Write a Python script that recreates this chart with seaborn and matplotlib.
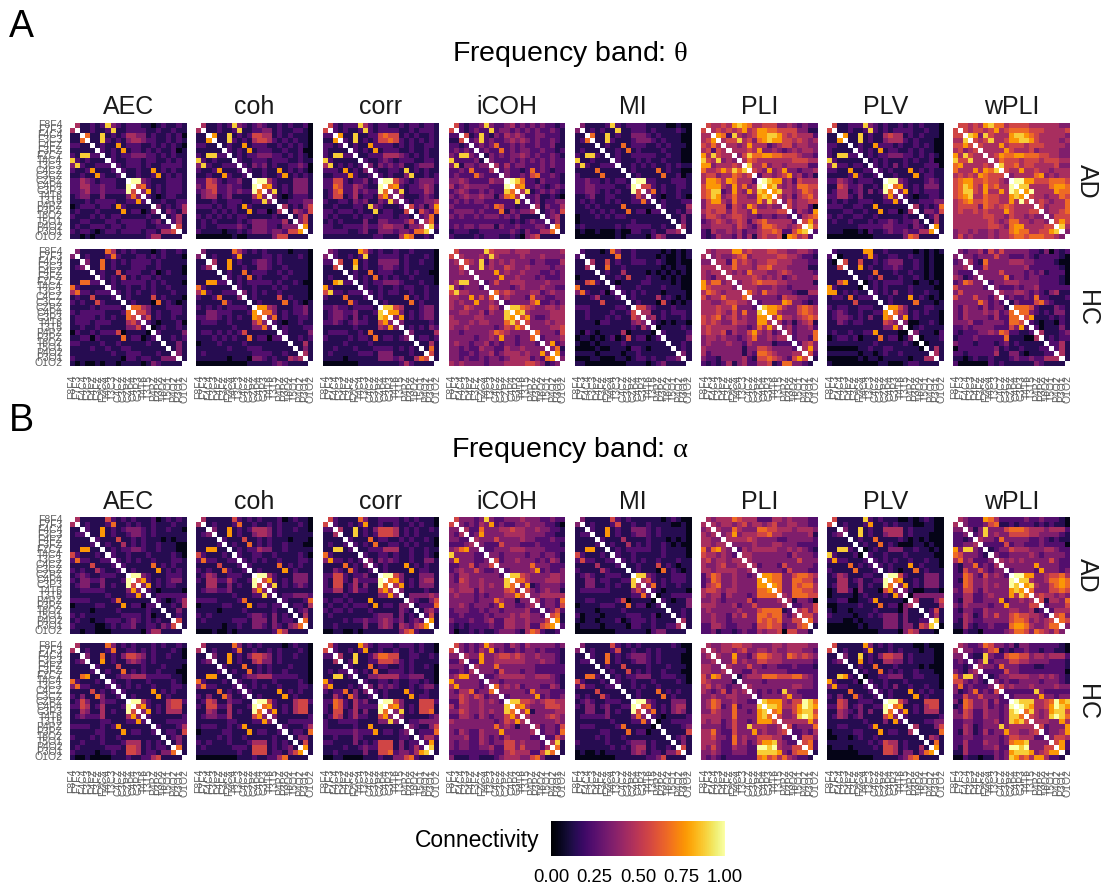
## Connectivity matrices per metric, group and frequency band
## Importing libraries
import numpy as np
import pandas as pd
import matplotlib
matplotlib.use("Agg")
import matplotlib.pyplot as plt
import seaborn as sns

# electrode pairs (rows and columns of every matrix)
pairs = ["F8F4", "F7F3", "F4C4", "F3C3", "F4FZ", "F3FZ", "FZCZ", "T4C4", "T3C3", "C4CZ", "C3CZ", "CZPZ",
         "C4P4", "C3P3", "T4T6", "T3T5", "P4PZ", "P3PZ", "T6O2", "T5O1", "P4O2", "P3O1", "O1O2"]
metrics = ["AEC", "coh", "corr", "iCOH", "MI", "PLI", "PLV", "wPLI"]
groups = ["AD", "HC"]
bar_ticks = [0.0, 0.25, 0.5, 0.75, 1.0]
bar_labels = ["0.00", "0.25", "0.50", "0.75", "1.00"]
# what each digit in the tables below stands for
digit_levels = [0.04, 0.14, 0.24, 0.35, 0.45, 0.56, 0.67, 0.77, 0.88, 1.0]

# Upper triangles, one digit per cell
theta_ad_aec = """4112128321222110121121 112112811222211211211 61181212443312112120 1182121344322112121
121171222112121210 21217122121211201 1212233322121211 211222122112121 21222121122221 2112117121211
112112712121 99321112221 5621212221 371212221 21012211 1121122 312124 13214 1241 241 51 1"""
theta_ad_coh = """4112128321232112121120 112112811223312112210 71181212554412121110 1182121455421212110
121171222112121210 21217122211211200 1212233322121210 211222122211211 21323121122320 2112117121210
112112712121 99421113331 6721213331 381213331 31012221 1122233 412135 14325 1351 351 71 1"""
theta_ad_corr = """5212228421221121221221 212112821222211212221 71181122565512121121 2181212556521212121
121172222121211221 21217122211211211 1122244432121211 211232122211221 31323231123331 2112218121211
212113811212 99532123332 6721223431 381222431 31112321 2122334 523137 15326 2361 461 82 1"""
theta_ad_icoh = """5212238322342323232212 212322823323232322321 51282132434322332221 2382322343432322321
232362232322322311 23226232332232212 1323233432322321 322232323232322 42423322232322 2322126232122
322325622321 98622132221 6722321232 481232321 22311210 2312233 413224 12325 2341 241 61 1"""
theta_ad_mi = """3111128212222111100100 121211811222121111210 61181211333212111100 1182111233321211100
121161222112121110 11216121111211100 1211222221121100 211121211211100 11212121121211 1211116121100
121111611201 99221112221 5521211221 361211211 21011210 1211122 211114 11213 1131 131 41 1"""
theta_ad_pli = """5445478764455533432322 454545745776655553311 76284345778875454442 455845367877554543441
443474442345534433 44454733432343443 3586677665554332 465444444455544 84463443444422 5437347332334
244345734231 98773425444 7843436655 7844346544 53424564 3534455 534420 24327 2456 574 85 2"""
theta_ad_plv = """5112228321211212121110 112112821212222112110 71181211454412121110 1181211344421211100
121172221211212100 21217122112121100 1212233322121210 121211121211200 21213121112220 2121117121211
112111712211 99321112321 6721213331 371212221 21011221 1122233 412126 13325 1241 141 71 1"""
theta_ad_wpli = """5545478664555544444433 545545745666655544445 87385444788765444443 545844577887544443442
544474555455544443 44447544453444433 4576677666554433 465554555455544 85564554444533 5447445443444
344446734344 99775556665 8844446776 7944447665 54434465 4543446 534446 34456 3555 575 84 3"""
theta_hc_aec = """3111116412121110121121 121112621112212121110 31161212122221211111 1161211122211211110
121151222112012110 21215121221211111 1212222212121110 211211212112111 21212112111211 1211115121110
121110612101 66431112221 5531211221 351211211 21011120 0121121 211113 11212 1131 131 31 1"""
theta_hc_coh = """3111116421212111101110 121112711112212111210 41171211233212111110 1171121133211211110
121161222112121110 21216121111211110 1212222212112100 211211121211110 31212112111110 1211115121110
121111612101 77431112231 6631212231 361211221 21011211 1211122 211113 11212 1141 131 41 1"""
theta_hc_corr = """3211117521211211211110 211212811222212111210 51171211333312112110 1181211233212111110
121161222112121100 21216121211211110 1212233321112110 211211212211211 21212211211211 1211116121211
121111612111 88541112331 7731212331 371212331 31111121 1212132 311114 12212 1141 161 51 1"""
theta_hc_icoh = """5333338544434443333334 433343843333433343333 54382434343332332224 3383433543343333233
333373433433322323 33337334333232223 2353344433334333 333323433343322 64543334423433 3433326332233
233335722323 88654334434 7843333444 5732234444 53334344 3333445 633325 23334 3723 361 72 3"""
theta_hc_mi = """2111016311211111010101 111111611211110100101 41151211222112100100 1161121111111010110
121141111010101010 11215111211010100 1011112211110100 211121111211100 21212111011110 1211114121010
121110510101 55321112111 4411212221 341211121 21010110 0111121 211112 11113 1121 121 31 1"""
theta_hc_pli = """4344477454445544334432 343345634444455443221 44264543445544433322 4464443556444333311
434364443345433332 44445434342343334 3445655544333331 444333433233333 64364433321144 3333325443322
233337633212 87764335654 7743335654 4744345654 42313451 3423342 423336 23326 2453 473 52 1"""
theta_hc_plv = """2111117711211111010101 011112721122112110100 51151121233311210100 1171211223211210100
111161112112110100 11215111211210100 0121222211011010 121211112111100 21213112112110 1121117121010
121111611101 77531112211 6431212110 371211110 30011210 0121111 311102 01112 0111 141 41 1"""
theta_hc_wpli = """3233425353333322130212 332333533222321222210 42163333444332222100 2253333333422222210
333353333232312220 33336233233222210 2334443333222210 322232334222222 43344323213411 2322326221112
132225632111 66652111321 6632121331 571112121 21011021 2011131 411123 12122 2241 241 41 1"""
alpha_ad_aec = """4111115212121112012121 121112611212112111211 21171212333212112110 1171211233212111111
211151121211101011 12114121211211100 1212233211211100 211211121111210 21212112111221 2111116121211
121111712121 99321112221 5721212331 371212211 21011110 1222222 210124 11214 1131 121 51 1"""
alpha_ad_coh = """4111115212121112012110 121112611211212111210 31171212444312112110 1171211344312111111
211151121211101110 12116121211211100 1212243311211111 211221121111210 21212112111221 2111116121211
121111712111 99421113331 5721213331 381212321 21111111 1223332 211126 12214 1231 141 61 1"""
alpha_ad_corr = """5211116311222212121110 211212711211211212110 41181213555412121121 1181212555412121111
211161221121211210 21216112212121110 1122244411211211 211221211211210 31323211211331 2121117121211
121111712211 99531113331 6731213441 471213331 31111211 1333343 321135 12226 1342 251 71 1"""
alpha_ad_icoh = """5333238322333433322322 323243723223343332210 42263334454433433221 2373333444433332211
433353333433222322 32225333222322221 2233344433332222 332333323323321 52334333232431 3333336333222
233334723223 88543333443 6643334443 371233332 53234331 3344444 423326 23325 2352 561 71 2"""
alpha_ad_mi = """3111115212111111012100 121112511211211110010 21171211333212111110 1171211233212111110
211141111211101010 12114121211210100 1212222211211110 211211111211110 21212112111211 1121115121011
121110612101 88321112221 4521212221 361211211 21011110 0112222 210113 11113 1121 121 41 1"""
alpha_ad_pli = """4344465444222443433322 434434534434533443322 43364333665544434443 3473444556443333341
444454333322333332 33334333443332222 2434444433434321 443333333243332 43333333335333 4233325333332
333332533322 77663356654 7663366553 763365664 63366554 4366655 413320 22335 4535 553 63 1"""
alpha_ad_plv = """5111118212111001012100 121112711212111001100 31181211444412111100 1181211344412111000
121161111210101000 12116121000110100 0121133311211010 211211121111100 21212112112110 2121117121110
121011612111 99521113331 6711213331 371213331 31001110 0333333 411135 11114 1251 241 81 0"""
alpha_ad_wpli = """4322276422222322322210 322235611212221212110 31383335666544434442 2383433555544333321
433263333322321211 22225233222322220 1233544433344322 322333343233332 43434333335322 3333337333322
233332733323 99773345564 8843346676 784335676 63335565 4544343 514436 23335 2444 563 65 3"""
alpha_hc_aec = """4111116312121112121121 121112611221212111210 31161213554312112110 1171211343212111111
211151111211121110 12116121211211100 1123344422222110 211211121111210 21212112111221 2111117121211
121111712111 99421114552 5721214551 371214441 21111112 1112222 211124 12215 1231 131 61 1"""
alpha_hc_coh = """4111116312121111012110 121112611211212111210 31171213554312112110 1171211453312111110
211161121211121110 12116121211211110 1123344422222110 211211121111210 21212112111221 2111117121211
121111712111 99521114552 6721214551 371214551 31111112 1122222 211124 12216 1331 151 71 1"""
alpha_hc_corr = """5211117421222122212110 211212711211211212110 41181124665511221121 1281122555421211111
211161221121211210 21216112221211110 1133444422333110 211221211221210 31323211212331 2121117211211
121111712211 99531115552 6731215551 381215561 31111123 1223333 321135 12226 2442 271 81 1"""
alpha_hc_icoh = """5323237433243243333323 323243723223233232221 43373345545433433321 2273344444433343321
433363333333222222 33325333233222222 2234444433444321 332333333333321 63434233322431 3333326333222
233333723223 88554345544 6743335554 471333344 43334543 3333343 423325 23326 2253 481 61 1"""
alpha_hc_mi = """3111115212121111112100 121112511211212111110 21161212333212111100 1161211233212111100
121151111211121110 12115121211211100 1212233311222110 211211121111210 11212112111111 1121116121211
121111612111 99321113331 5621213441 361213431 21011112 0112222 111123 11115 1231 131 51 1"""
alpha_hc_pli = """4334455443333443444433 434434533443433444332 43373324665443654543 3363433554443333332
433353323322232221 33224333333222222 1344466655566432 333323333333332 43333333344332 3232328332222
233334733222 87774355986 8874457987 673357885 53348986 4444474 523336 22324 2553 562 62 1"""
alpha_hc_plv = """5111117312121111001000 121112711121211101100 31181213554412111100 1171211443312111100
121161112111101000 12116121211211100 0112233311221110 211211121111110 21213112112110 2121117121211
121111712111 99531115551 6711214551 371214441 21111112 1112233 411135 11116 1431 161 71 1"""
alpha_hc_wpli = """4322365332313322222210 332235612122322122110 21183225665534434442 2382333554433332221
433263332221122221 22225332222222220 1233444433434321 323223333233321 53433343333433 2222228322222
233333733233 98884456978 9874457987 684347885 54348986 4443374 523337 23347 3554 572 72 1"""

theta_blocks = [[theta_ad_aec, theta_ad_coh, theta_ad_corr, theta_ad_icoh, theta_ad_mi, theta_ad_pli, theta_ad_plv, theta_ad_wpli],
                [theta_hc_aec, theta_hc_coh, theta_hc_corr, theta_hc_icoh, theta_hc_mi, theta_hc_pli, theta_hc_plv, theta_hc_wpli]]
alpha_blocks = [[alpha_ad_aec, alpha_ad_coh, alpha_ad_corr, alpha_ad_icoh, alpha_ad_mi, alpha_ad_pli, alpha_ad_plv, alpha_ad_wpli],
                [alpha_hc_aec, alpha_hc_coh, alpha_hc_corr, alpha_hc_icoh, alpha_hc_mi, alpha_hc_pli, alpha_hc_plv, alpha_hc_wpli]]

# Figure size and positions in pixels
W, H = 1101, 886
col_left = [70, 196.3, 322.5, 448.7, 574.9, 701.1, 827.3, 953]
panel_w, panel_h = 116.6, 116.6
row_tops = {"A": [122.7, 249.3], "B": [517, 643.3]}

sns.set_theme(style="white")
plt.rcParams["font.family"] = ["Liberation Sans", "DejaVu Sans"]
plt.rcParams["mathtext.fontset"] = "custom"
plt.rcParams["mathtext.rm"] = "Liberation Serif"
plt.rcParams["mathtext.it"] = "Liberation Serif"
plt.rcParams["mathtext.bf"] = "Liberation Serif"


# Turn the digit strings into a symmetric table with an empty diagonal
def to_matrix(block):
    rows = block.split()
    n = len(pairs)
    mat = np.full((n, n), np.nan)
    for i in range(n - 1):
        size = n - 1 - i
        row = rows[i][:size].ljust(size, rows[i][-1])
        for k, ch in enumerate(row):
            mat[i, i + 1 + k] = digit_levels[int(ch)]
            mat[i + 1 + k, i] = digit_levels[int(ch)]
    return pd.DataFrame(mat, index=pairs, columns=pairs)


def add_ax(x, y, w, h):
    return fig.add_axes([x / W, 1 - (y + h) / H, w / W, h / H])


def px_text(x, y, s, **kw):
    fig.text(x / W, 1 - y / H, s, **kw)


fig = plt.figure(figsize=(W / 100, H / 100), dpi=100)
cax = add_ax(551, 821, 174, 35)


def draw_band(letter, blocks):
    for r, group in enumerate(groups):
        for c, metric in enumerate(metrics):
            ax = add_ax(col_left[c], row_tops[letter][r], panel_w, panel_h)
            first = letter == "A" and r == 0 and c == 0
            sns.heatmap(to_matrix(blocks[r][c]), ax=ax, cmap="inferno", vmin=0, vmax=1, square=False,
                        xticklabels=pairs if r == 1 else False, yticklabels=pairs if c == 0 else False,
                        cbar=first, cbar_ax=cax if first else None,
                        cbar_kws={"orientation": "horizontal", "ticks": bar_ticks} if first else {})
            ax.set_xlabel("")
            ax.set_ylabel("")
            ax.tick_params(axis="both", length=0, labelsize=7.5, labelcolor="#5f5f5f")
            ax.tick_params(axis="x", pad=6.5, labelrotation=90)
            ax.tick_params(axis="y", pad=5.5, labelrotation=0)
            if r == 0:
                ax.set_title(metric, fontsize=18, color="#1a1a1a", pad=6)
        px_text(1087, row_tops[letter][r] + panel_h / 2, group, fontsize=18, color="#1a1a1a",
                rotation=-90, ha="center", va="center")


draw_band("A", theta_blocks)
draw_band("B", alpha_blocks)

px_text(570, 54, r"Frequency band: $\theta$", fontsize=20.5, color="black", ha="center", va="center")
px_text(570, 450, r"Frequency band: $\alpha$", fontsize=20.5, color="black", ha="center", va="center")
px_text(9, 27, "A", fontsize=27, color="black", ha="left", va="center")
px_text(9, 421, "B", fontsize=27, color="black", ha="left", va="center")

# Colour bar
cax.set_xticks(bar_ticks)
cax.set_xticklabels(bar_labels)
cax.tick_params(axis="x", direction="in", top=True, bottom=True, length=5, width=0.6, color="white",
                labelsize=13.3, labelcolor="black", pad=9)
for spine in cax.spines.values():
    spine.set_visible(False)
px_text(539, 840, "Connectivity", fontsize=16.5, color="black", ha="right", va="center")

fig.savefig("out.png", dpi=100)
